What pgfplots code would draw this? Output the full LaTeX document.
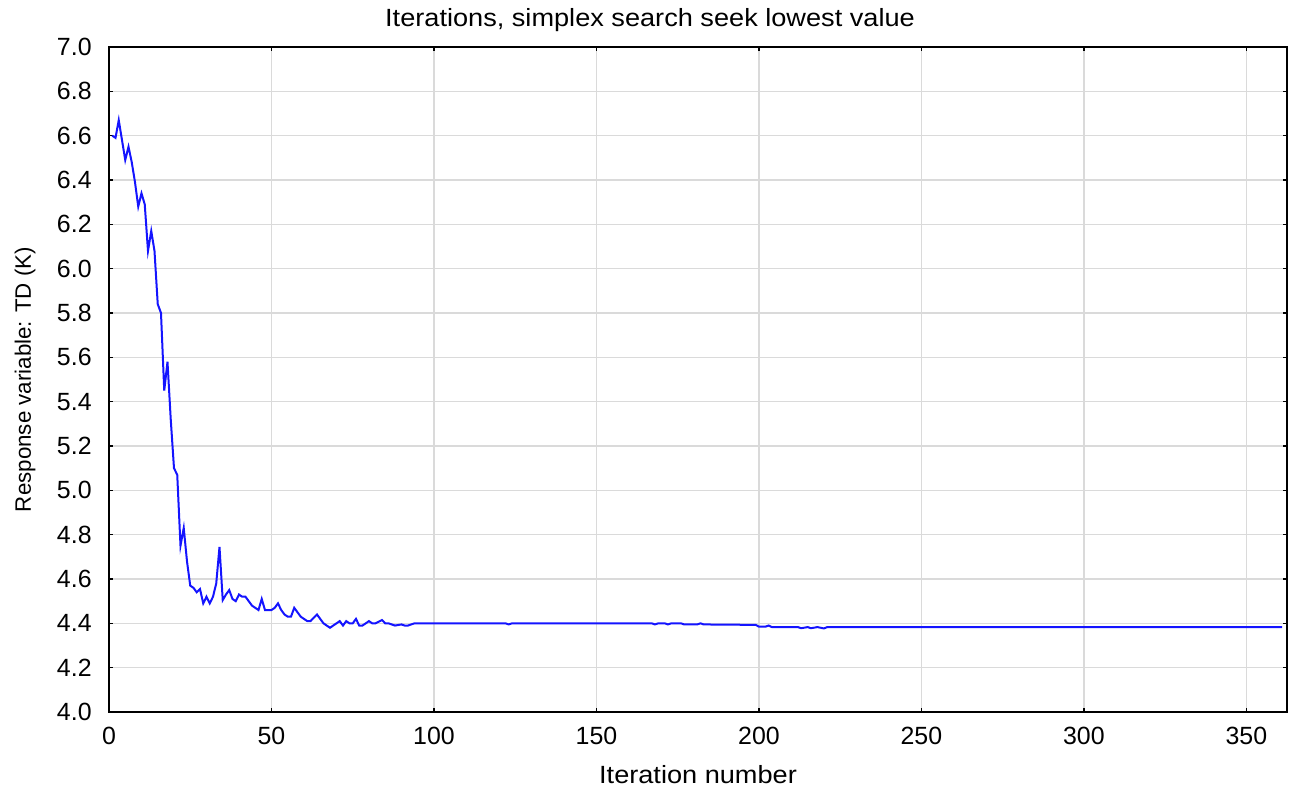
\documentclass[border=0pt]{standalone}
\usepackage{pgfplots}
\pgfplotsset{compat=1.18}
\usepackage{fontspec}
\setmainfont{Liberation Sans}
\newfontfamily\widesans[FakeStretch=1.09]{Liberation Sans}

\definecolor{gridgray}{RGB}{218,218,218}
\definecolor{lineblue}{RGB}{20,20,255}

% Response of the simplex search at each iteration
\pgfplotstableread{
x y
1 6.60
2 6.59
3 6.67
4 6.58
5 6.49
6 6.55
7 6.48
8 6.39
9 6.28
10 6.34
11 6.29
12 6.08
13 6.17
14 6.08
15 5.84
16 5.80
17 5.45
18 5.58
19 5.32
20 5.10
21 5.07
22 4.75
23 4.83
24 4.68
25 4.57
26 4.56
27 4.54
28 4.555
29 4.49
30 4.52
31 4.49
32 4.52
33 4.58
34 4.745
35 4.505
36 4.53
37 4.55
38 4.51
39 4.50
40 4.53
41 4.52
42 4.52
43 4.50
44 4.48
45 4.47
46 4.46
47 4.51
48 4.46
49 4.46
50 4.46
51 4.47
52 4.49
53 4.46
54 4.44
55 4.43
56 4.43
57 4.47
58 4.45
59 4.43
60 4.42
61 4.41
62 4.41
64 4.44
65 4.42
66 4.40
67 4.39
68 4.38
69 4.39
70 4.40
71 4.41
72 4.39
73 4.41
74 4.40
75 4.40
76 4.42
77 4.39
78 4.39
79 4.40
80 4.41
81 4.40
82 4.40
84 4.415
85 4.40
86 4.40
88 4.39
90 4.395
91 4.39
92 4.39
94 4.40
122 4.40
123 4.395
124 4.40
167 4.40
168 4.395
169 4.40
171 4.40
172 4.395
173 4.40
176 4.40
177 4.395
181 4.395
182 4.40
183 4.395
199 4.393
200 4.385
202 4.385
203 4.39
204 4.383
212 4.383
213 4.378
215 4.383
216 4.378
218 4.383
220 4.377
221 4.383
361 4.383
}\iterdata

\begin{document}
\begin{tikzpicture}
\begin{axis}[
  scale only axis,
  width=589bp, height=332.5bp,
  xmin=0, xmax=362.5,
  ymin=4, ymax=7,
  xtick={0,50,100,150,200,250,300,350},
  ytick={4.0,4.2,4.4,4.6,4.8,5.0,5.2,5.4,5.6,5.8,6.0,6.2,6.4,6.6,6.8,7.0},
  yticklabel style={/pgf/number format/fixed,
    /pgf/number format/fixed zerofill,
    /pgf/number format/precision=1},
  /pgf/number format/assume math mode=true,
  tick label style={font=\fontsize{12.5}{14}\selectfont, inner sep=0pt},
  yticklabel style={anchor=east, xshift=-8.5bp},
  xticklabel style={anchor=north, yshift=-7.5bp},
  tick align=inside,
  major tick length=2bp,
  tick style={black, line width=0.8bp},
  grid=major,
  major grid style={gridgray, line width=0.8bp},
  axis line style={black, line width=1bp},
]
\addplot[lineblue, line width=1bp] table[x=x, y=y] {\iterdata};
\end{axis}

\node[anchor=base, font=\widesans\fontsize{12.5}{14}\selectfont]
  at ([shift={(-24bp,10bp)}]current axis.north) {Iterations, simplex search seek lowest value};
\node[anchor=base, font=\widesans\fontsize{12.5}{14}\selectfont]
  at ([yshift=-35.5bp]current axis.south) {Iteration number};
\node[anchor=base, rotate=90, font=\fontsize{11.2}{13}\selectfont]
  at ([xshift=-39bp]current axis.west) {Response variable: TD (K)};

\pgfresetboundingbox
\path ([shift={(-54.5bp,-39.5bp)}]current axis.south west)
  rectangle ([shift={(6.5bp,23.5bp)}]current axis.north east);
\end{tikzpicture}
\end{document}
